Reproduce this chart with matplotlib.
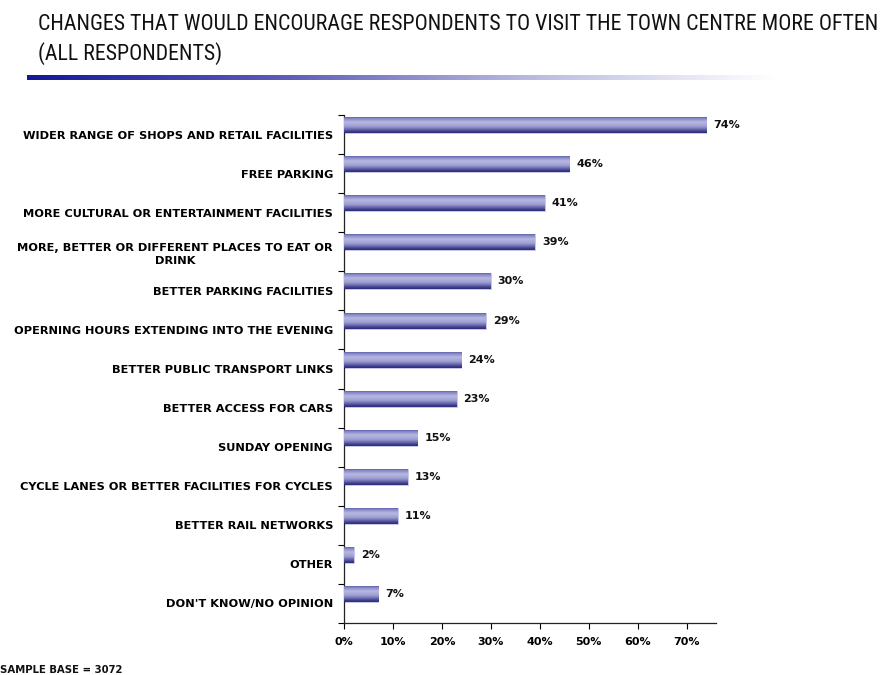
import numpy as np
import matplotlib.pyplot as plt
from matplotlib.colors import LinearSegmentedColormap

categories = [
    "WIDER RANGE OF SHOPS AND RETAIL FACILITIES",
    "FREE PARKING",
    "MORE CULTURAL OR ENTERTAINMENT FACILITIES",
    "MORE, BETTER OR DIFFERENT PLACES TO EAT OR\nDRINK",
    "BETTER PARKING FACILITIES",
    "OPERNING HOURS EXTENDING INTO THE EVENING",
    "BETTER PUBLIC TRANSPORT LINKS",
    "BETTER ACCESS FOR CARS",
    "SUNDAY OPENING",
    "CYCLE LANES OR BETTER FACILITIES FOR CYCLES",
    "BETTER RAIL NETWORKS",
    "OTHER",
    "DON'T KNOW/NO OPINION",
]
values = [74, 46, 41, 39, 30, 29, 24, 23, 15, 13, 11, 2, 7]
x_ticks = [0, 10, 20, 30, 40, 50, 60, 70]

title_lines = [
    "CHANGES THAT WOULD ENCOURAGE RESPONDENTS TO VISIT THE TOWN CENTRE MORE OFTEN",
    "(ALL RESPONDENTS)",
]
footnote = "SAMPLE BASE = 3072"

W, H = 885, 675
fig = plt.figure(figsize=(W / 100, H / 100), dpi=100)

# Title in the narrowest sans available, sized so the first line spans the page
narrow = ["Liberation Sans Narrow", "Noto Sans ExtraCondensed",
          "Noto Sans Condensed", "Roboto Condensed", "Liberation Sans"]
title_texts = []
for line, base in zip(title_lines, (30, 60)):
    t = fig.text(38 / W, 1 - base / H, line, ha="left", va="baseline",
                 family=narrow, fontstretch="condensed", fontsize=17,
                 color="#111111")
    title_texts.append(t)
fig.canvas.draw()
renderer = fig.canvas.get_renderer()
w1 = title_texts[0].get_window_extent(renderer).width
fs = 17 * (842 / w1)
for t in title_texts:
    t.set_fontsize(min(fs, 17))

# Fading rule under the title
rule_ax = fig.add_axes([27 / W, 1 - 80 / H, (775 - 27) / W, 5 / H])
rule_cmap = LinearSegmentedColormap.from_list(
    "rule", ["#16169a", "#5a5ab8", "#b8b8e0", "#ffffff"])
rule_ax.imshow(np.linspace(0, 1, 256)[None, :], aspect="auto", cmap=rule_cmap,
               extent=[0, 1, 0, 1])
rule_ax.set_axis_off()

# Bar chart
ax = fig.add_axes([344 / W, 1 - 623 / H, (716 - 344) / W, (623 - 115) / H])
n = len(categories)
pos = np.arange(n)
bar_offset = -0.24
bar_h = 0.41

bar_cmap = LinearSegmentedColormap.from_list(
    "bar", [(0.0, "#34348a"), (0.1, "#7c7cc0"), (0.35, "#b8b8e2"),
            (0.6, "#a0a0d4"), (0.8, "#6464aa"), (0.92, "#3a3a88"),
            (1.0, "#2c2c78")])
grad = np.linspace(0, 1, 64)[:, None]

bars = ax.barh(pos + bar_offset, values, height=bar_h, color="#9090c8",
               edgecolor="#c8c8ea", linewidth=0.6, zorder=2)
for rect in bars:
    x0, y0 = rect.get_x(), rect.get_y()
    w, h = rect.get_width(), rect.get_height()
    im = ax.imshow(grad, aspect="auto", cmap=bar_cmap,
                   extent=[x0, x0 + w, y0 + h, y0], zorder=3,
                   interpolation="bilinear")
    im.set_clip_path(rect)

for p, v in zip(pos, values):
    ax.annotate(f"{v}%", xy=(v, p + bar_offset), xytext=(5, 0),
                textcoords="offset points", ha="left", va="center",
                fontsize=8, fontweight="bold", family="DejaVu Sans",
                color="#111111")

ax.set_xlim(0, 76)
ax.set_ylim(n - 0.5, -0.5)

ax.set_xticks(x_ticks)
ax.set_xticklabels([f"{t}%" for t in x_ticks], fontsize=8, fontweight="bold",
                   family="DejaVu Sans")
ax.set_yticks(pos)
ax.set_yticklabels(categories, fontsize=8.2, fontweight="bold",
                   family="DejaVu Sans", multialignment="center",
                   linespacing=1.35)
ax.set_yticks(np.arange(n + 1) - 0.5, minor=True)
ax.tick_params(axis="y", which="major", length=0, pad=8)
ax.tick_params(axis="y", which="minor", length=4, width=0.8, direction="out")
ax.tick_params(axis="x", length=4, width=0.8, direction="out", pad=6)

for side in ("top", "right"):
    ax.spines[side].set_visible(False)
for side in ("left", "bottom"):
    ax.spines[side].set_linewidth(0.9)
    ax.spines[side].set_color("#222222")

fig.text(0, 1 - 670 / H, footnote, ha="left", va="center",
         fontsize=7.3, fontweight="bold", family="DejaVu Sans", color="#111111")

fig.savefig("out.png", dpi=100)
